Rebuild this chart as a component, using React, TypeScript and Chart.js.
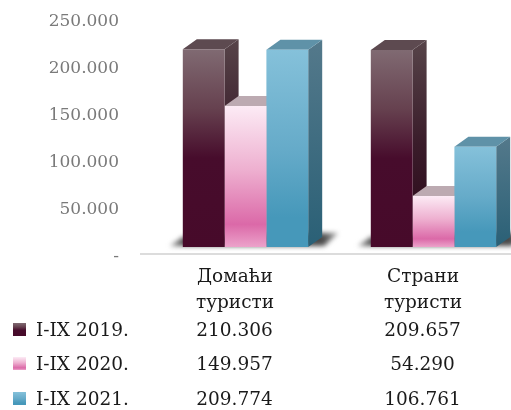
import React, { useEffect, useRef } from "react";
import { Chart, registerables } from "chart.js";

Chart.register(...registerables);

const categories = [["Домаћи", "туристи"], ["Страни", "туристи"]];
const seriesNames = ["I-IX 2019.", "I-IX 2020.", "I-IX 2021."];
const values2019 = [210306, 209657];
const values2020 = [149957, 54290];
const values2021 = [209774, 106761];

const FONT = '"DejaVu Serif", serif';
const DX = 14;
const DY = 10;
const tableRows = [331, 365, 400];

type Stop = [number, string];
const frontStops: Stop[][] = [
  [[0, "#806a72"], [0.3, "#66414f"], [0.55, "#470c2c"], [1, "#470a2a"]],
  [[0, "#fcebf5"], [0.45, "#eeb0d0"], [0.84, "#db69a8"], [1, "#eca2ca"]],
  [[0, "#85c1da"], [0.5, "#66abc9"], [0.85, "#4698ba"], [1, "#4698ba"]],
];
const sideStops: Stop[][] = [
  [[0, "#574449"], [0.5, "#3a1c2a"], [1, "#2a0618"]],
  [[0, "#b09aa4"], [1, "#8a5070"]],
  [[0, "#54798b"], [1, "#2a6076"]],
];
const topColors = ["#5d4a50", "#bcaab1", "#5f92a8"];

function fmt(v: number) {
  return String(v).replace(/\B(?=(\d{3})+$)/g, ".");
}

function grad(ctx: CanvasRenderingContext2D, y0: number, y1: number, stops: Stop[]) {
  const g = ctx.createLinearGradient(0, y0, 0, y1);
  stops.forEach(([o, c]) => g.addColorStop(o, c));
  return g;
}

const decor = {
  id: "decor",
  beforeDatasetsDraw(chart: any) {
    const ctx: CanvasRenderingContext2D = chart.ctx;
    const yBase = chart.scales.y.getPixelForValue(0);
    ctx.save();
    // floor line
    ctx.fillStyle = "#dcdcdc";
    ctx.fillRect(140, 253, 400, 2);
    // floor shadows
    const m0 = chart.getDatasetMeta(0).data;
    const m2 = chart.getDatasetMeta(2).data;
    m0.forEach((b: any, i: number) => {
      const l = b.x - b.width / 2;
      const r = m2[i].x + m2[i].width / 2;
      ctx.save();
      ctx.filter = "blur(2.5px)";
      const g = ctx.createLinearGradient(l - 15, 0, r + 32, 0);
      g.addColorStop(0, "#aaaaaa");
      g.addColorStop(0.1, "#4a4a4a");
      g.addColorStop(0.9, "#4a4a4a");
      g.addColorStop(1, "#b5b5b5");
      ctx.fillStyle = g;
      ctx.beginPath();
      ctx.moveTo(l, yBase - 10);
      ctx.lineTo(l - 13, yBase - 1);
      ctx.lineTo(r + 16, yBase - 1);
      ctx.lineTo(r + 30, yBase - 14);
      ctx.lineTo(r + 14, yBase - 14);
      ctx.closePath();
      ctx.fill();
      ctx.restore();
    });
    // depth faces
    chart.data.datasets.forEach((_: any, d: number) => {
      chart.getDatasetMeta(d).data.forEach((b: any) => {
        const l = b.x - b.width / 2;
        const r = b.x + b.width / 2;
        const t = b.y;
        ctx.fillStyle = grad(ctx, t - DY, yBase, sideStops[d]);
        ctx.beginPath();
        ctx.moveTo(r, t);
        ctx.lineTo(r + DX, t - DY);
        ctx.lineTo(r + DX, yBase - DY);
        ctx.lineTo(r, yBase);
        ctx.closePath();
        ctx.fill();
        ctx.fillStyle = topColors[d];
        ctx.beginPath();
        ctx.moveTo(l, t);
        ctx.lineTo(l + DX, t - DY);
        ctx.lineTo(r + DX, t - DY);
        ctx.lineTo(r, t);
        ctx.closePath();
        ctx.fill();
      });
    });
    ctx.restore();
  },
  afterDraw(chart: any) {
    const ctx: CanvasRenderingContext2D = chart.ctx;
    const x = chart.scales.x;
    ctx.save();
    ctx.font = `18.5px ${FONT}`;
    ctx.textBaseline = "middle";
    chart.data.datasets.forEach((ds: any, d: number) => {
      const y = tableRows[d];
      ctx.fillStyle = grad(ctx, y - 8, y + 5, frontStops[d]);
      ctx.fillRect(13, y - 8, 13, 13);
      ctx.fillStyle = "#1a1a1a";
      ctx.textAlign = "left";
      ctx.fillText(ds.label, 36, y);
      ctx.textAlign = "center";
      ds.data.forEach((v: number, i: number) => {
        ctx.fillText(fmt(v), x.getPixelForValue(i) - 11, y);
      });
    });
    ctx.restore();
  },
};

export default function App() {
  const ref = useRef<HTMLCanvasElement>(null);
  useEffect(() => {
    const chart = new Chart(ref.current!, {
      type: "bar",
      data: {
        labels: categories as any,
        datasets: [values2019, values2020, values2021].map((data, d) => ({
          label: seriesNames[d],
          data,
          backgroundColor: (c: any) => {
            const ch = c.chart;
            if (!ch.chartArea || c.raw === undefined) return frontStops[d][0][1];
            const y = ch.scales.y;
            return grad(ch.ctx, y.getPixelForValue(c.raw), y.getPixelForValue(0), frontStops[d]);
          },
          borderWidth: 0,
          categoryPercentage: 0.667,
          barPercentage: 1,
        })),
      },
      options: {
        animation: false,
        responsive: false,
        layout: { padding: { top: 12, right: 2.5, left: 0, bottom: 0 }, autoPadding: false },
        plugins: { legend: { display: false }, tooltip: { enabled: false } },
        scales: {
          x: {
            grid: { display: false, drawTicks: false },
            border: { display: false },
            afterFit: (s: any) => { s.height = 163; },
            ticks: {
              autoSkip: false,
              maxRotation: 0,
              labelOffset: -10.5,
              padding: 17,
              color: "#1a1a1a",
              font: { family: FONT, size: 18.5, lineHeight: 1.42 },
            },
          },
          y: {
            min: 0,
            max: 250000,
            grid: { display: false, drawTicks: false },
            border: { display: false },
            afterFit: (s: any) => { s.width = 151.5; s.paddingTop = 0; s.paddingBottom = 0; },
            ticks: {
              stepSize: 50000,
              labelOffset: 9.5,
              padding: 32.5,
              color: "#7a7a7a",
              font: { family: FONT, size: 17 },
              callback: (v: any) => (v === 0 ? "-" : fmt(Number(v))),
            },
          },
        },
      },
      plugins: [decor],
    } as any);
    return () => chart.destroy();
  }, []);
  return (
    <div style={{ position: "absolute", left: 0, top: 0, width: 511, height: 410, overflow: "hidden", background: "#fff" }}>
      <canvas ref={ref} width={530} height={410} style={{ display: "block" }} />
    </div>
  );
}
